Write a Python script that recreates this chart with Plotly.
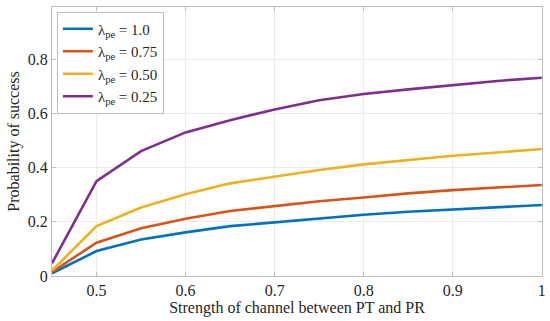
import plotly.graph_objects as go

x_vals = [0.45, 0.5, 0.55, 0.6, 0.65, 0.7, 0.75, 0.8, 0.85, 0.9, 0.95, 1.0]
y_lam_100 = [0.010, 0.092, 0.135, 0.161, 0.184, 0.198, 0.213, 0.226, 0.237, 0.246, 0.253, 0.262]
y_lam_075 = [0.015, 0.123, 0.176, 0.211, 0.240, 0.258, 0.276, 0.290, 0.305, 0.317, 0.326, 0.336]
y_lam_050 = [0.020, 0.184, 0.253, 0.302, 0.342, 0.366, 0.391, 0.412, 0.428, 0.444, 0.456, 0.469]
y_lam_025 = [0.047, 0.350, 0.461, 0.530, 0.575, 0.615, 0.649, 0.672, 0.689, 0.705, 0.720, 0.732]

series_names = ["λ<sub>pe</sub> = 1.0", "λ<sub>pe</sub> = 0.75", "λ<sub>pe</sub> = 0.50", "λ<sub>pe</sub> = 0.25"]
series_colors = ["#0072BD", "#D95319", "#EDB120", "#7E2F8E"]
series_values = [y_lam_100, y_lam_075, y_lam_050, y_lam_025]

x_tickvals = [0.5, 0.6, 0.7, 0.8, 0.9, 1.0]
x_ticktext = ["0.5", "0.6", "0.7", "0.8", "0.9", "1"]
y_tickvals = [0, 0.2, 0.4, 0.6, 0.8]
y_ticktext = ["0", "0.2", "0.4", "0.6", "0.8"]

FONT = "Times New Roman, Liberation Serif, serif"

fig = go.Figure()
for name, color, vals in zip(series_names, series_colors, series_values):
    fig.add_trace(go.Scatter(x=x_vals, y=vals, mode="lines", name=name,
                             line=dict(color=color, width=2.6)))

axis_common = dict(
    showline=True, linecolor="#bdbdbd", linewidth=1, mirror="ticks",
    ticks="inside", ticklen=4, tickcolor="#bdbdbd",
    showgrid=True, gridcolor="#ececec", gridwidth=1, zeroline=False,
    automargin=False,
    tickfont=dict(family=FONT, size=16, color="#262626"),
)

fig.update_layout(
    width=550, height=321,
    margin=dict(l=52, r=8, t=7, b=45, autoexpand=False),
    paper_bgcolor="white", plot_bgcolor="white",
    font=dict(family=FONT, size=16, color="#262626"),
    xaxis=dict(range=[0.45, 1.0002], tickvals=x_tickvals, ticktext=x_ticktext,
               title=dict(text="Strength of channel between PT and PR", standoff=0,
                          font=dict(family=FONT, size=16, color="#262626")),
               **axis_common),
    yaxis=dict(range=[0, 0.993], tickvals=y_tickvals, ticktext=y_ticktext,
               title=dict(text="Probability of success", standoff=4,
                          font=dict(family=FONT, size=16, color="#262626")),
               **axis_common),
    legend=dict(x=0.01, y=0.983, xanchor="left", yanchor="top",
                bgcolor="white", bordercolor="#bdbdbd", borderwidth=1,
                font=dict(family=FONT, size=15, color="#262626"),
                tracegroupgap=0, itemwidth=30),
    showlegend=True,
)

fig.write_html("out.html", config={"displayModeBar": False},
               post_script="document.body.style.margin='0';")
